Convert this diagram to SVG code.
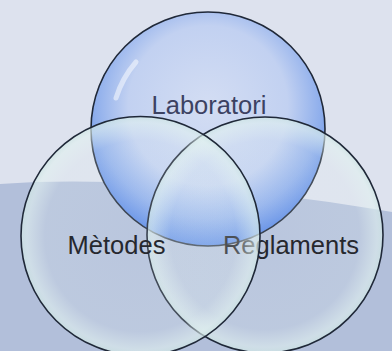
<svg xmlns="http://www.w3.org/2000/svg" width="392" height="351" viewBox="0 0 392 351">
<defs>
<radialGradient id="gBlue" cx="0.5" cy="0.4" r="0.62">
<stop offset="0" stop-color="#d3ddf3"/>
<stop offset="0.55" stop-color="#c2d1f1"/>
<stop offset="0.78" stop-color="#8eaeec"/>
<stop offset="1" stop-color="#4a7ee4"/>
</radialGradient>
<radialGradient id="gGreen" cx="0.5" cy="0.5" r="0.5">
<stop offset="0" stop-color="#f0f8f8" stop-opacity="0.12"/>
<stop offset="0.8" stop-color="#e6f2f2" stop-opacity="0.2"/>
<stop offset="0.95" stop-color="#e2f2f0" stop-opacity="0.6"/>
<stop offset="1" stop-color="#cfe6e4" stop-opacity="0.75"/>
</radialGradient>
<style>
.ring{stroke:#1f2838;stroke-width:1.6}
.lbl{font-family:"Liberation Sans",Arial,sans-serif;font-size:25.5px;text-anchor:middle}
.hl{fill:none;stroke:#ffffff;stroke-opacity:0.5;stroke-width:5;stroke-linecap:round}
</style>
</defs>
<rect width="392" height="351" fill="#dde2ee"/>
<path d="M0,184 C110,176 250,188 392,212 L392,351 L0,351 Z" fill="#b2bfda"/>
<g id="laboratori">
<circle cx="208" cy="129" r="117" fill="url(#gBlue)" class="ring"/>
<path class="hl" d="M116,98 A100,100 0 0 1 136,62"/>
<text class="lbl" x="209" y="114" fill="#3c4262">Laboratori</text>
</g>
<g id="reglaments">
<circle cx="265" cy="235" r="118" fill="url(#gGreen)" class="ring"/>
<text class="lbl" x="291" y="254" fill="#26282e">Reglaments</text>
</g>
<g id="metodes">
<circle cx="140.5" cy="236" r="119.5" fill="url(#gGreen)" class="ring"/>
<text class="lbl" x="116.5" y="254" fill="#26282e">Mètodes</text>
</g>
</svg>
